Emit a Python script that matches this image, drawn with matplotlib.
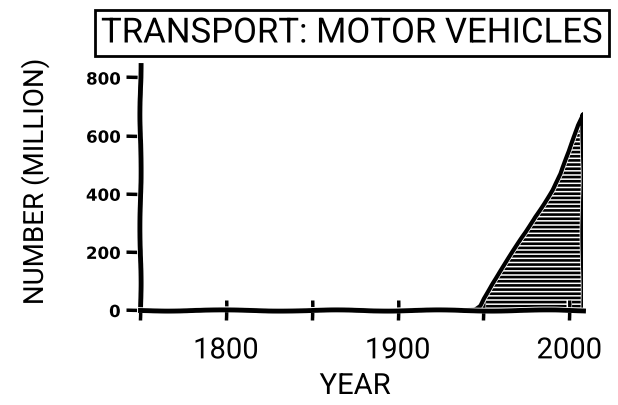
import matplotlib
matplotlib.use("Agg")
import matplotlib.pyplot as plt
import numpy as np

years = [1750, 1940, 1945, 1948, 1950, 1955, 1960, 1965, 1970, 1975, 1980, 1985, 1990, 1995, 2000, 2005, 2008]
vehicles = [0, 0, 2, 15, 40, 90, 135, 180, 225, 270, 320, 365, 412, 468, 545, 635, 675]
yticks = [0, 200, 400, 600, 800]
xticks = [1750, 1800, 1850, 1900, 1950, 2000]
xticklabels = ["", "1800", "", "1900", "", "2000"]
title = "TRANSPORT: MOTOR VEHICLES"
xlabel = "YEAR"
ylabel = "NUMBER (MILLION)"

np.random.seed(3)
with plt.xkcd(scale=0.6, length=120, randomness=2):
    fam = ['Roboto', 'DejaVu Sans']
    plt.rcParams['font.family'] = fam
    plt.rcParams['hatch.linewidth'] = 1.9
    fig = plt.figure(figsize=(6.18, 4.05), dpi=100)
    ax = fig.add_axes([140/618, 1-310/405, (583-140)/618, (310-65)/405])
    x = np.array(years, dtype=float)
    y = np.array(vehicles, dtype=float)
    poly = ax.fill_between(x, 0, y, facecolor='white', edgecolor='black', hatch='----', linewidth=0)
    poly.set_path_effects([])
    ax.plot(np.append(x, x[-1]), np.append(y, 0), color='black', lw=3)
    ax.set_xlim(1750, 2008)
    ax.set_ylim(0, 843)
    for s in ['top', 'right']:
        ax.spines[s].set_visible(False)
    for s in ['left', 'bottom']:
        ax.spines[s].set_linewidth(3.5)
    ax.set_yticks(yticks)
    ax.set_yticklabels([str(v) for v in yticks], family='DejaVu Sans', fontweight='bold', fontsize=12)
    ax.set_xticks(xticks)
    ax.set_xticklabels(xticklabels, fontsize=21, family=fam)
    ax.tick_params(axis='x', direction='inout', length=14, width=2.5, pad=12)
    ax.tick_params(axis='y', direction='out', length=10, width=2.5, pad=4)
    fig.text(35/618, 1-182/405, ylabel, rotation=90, ha='center', va='center', fontsize=20, family=fam)
    fig.text(355/618, 1-386/405, xlabel, ha='center', va='center', fontsize=21, family=fam)
    t = fig.text(352/618, 1-33/405, title, ha='center', va='center', fontsize=25, family=fam,
                 bbox=dict(boxstyle='square,pad=0.18', facecolor='white', edgecolor='black', lw=2))
    t.get_bbox_patch().set_sketch_params(None)
    fig.savefig('out.png', dpi=100, facecolor='white')
